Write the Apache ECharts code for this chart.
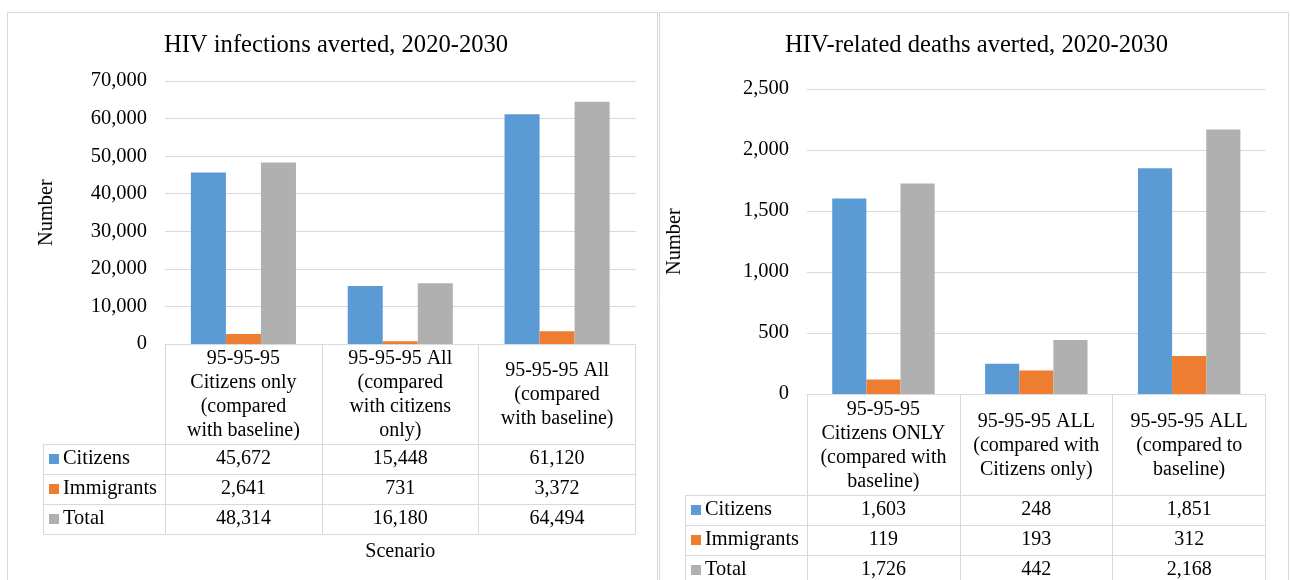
<!DOCTYPE html>
<html><head><meta charset="utf-8">
<script src="https://cdn.jsdelivr.net/npm/echarts@6/dist/echarts.min.js"></script>
<style>html,body{margin:0;padding:0;background:#fff}#c{width:1291px;height:580px}</style>
</head><body><div id="c"></div>
<script>
// ---- data ----
const seriesNames = ['Citizens', 'Immigrants', 'Total'];
const seriesColors = ['#5B9BD5', '#ED7D31', '#B0B0B0'];

const infTitle = 'HIV infections averted, 2020-2030';
const infCategories = ['95-95-95\nCitizens only\n(compared\nwith baseline)', '95-95-95 All\n(compared\nwith citizens\nonly)', '95-95-95 All\n(compared\nwith baseline)'];
const infCitizens = [45672, 15448, 61120];
const infImmigrants = [2641, 731, 3372];
const infTotal = [48314, 16180, 64494];
const infYMax = 70000, infYInterval = 10000;

const dthTitle = 'HIV-related deaths averted, 2020-2030';
const dthCategories = ['95-95-95\nCitizens ONLY\n(compared with\nbaseline)', '95-95-95 ALL\n(compared with\nCitizens only)', '95-95-95 ALL\n(compared to\nbaseline)'];
const dthCitizens = [1603, 248, 1851];
const dthImmigrants = [119, 193, 312];
const dthTotal = [1726, 442, 2168];
const dthYMax = 2500, dthYInterval = 500;

// ---- layout ----
const FONT = '"Liberation Serif", "Times New Roman", serif';
const TXT = '#000';
const LINE = '#d9d9d9';
const panels = [
  {left:165, right:635.5, top:81, bottom:344, headH:100, rowH:30, legendLeft:43, titleX:331, nameGap:108, box:[7.5,12.5,650,620], scenario:true,
   title:infTitle, cats:infCategories, vals:[infCitizens, infImmigrants, infTotal], yMax:infYMax, yInt:infYInterval},
  {left:807, right:1265.6, top:89, bottom:394, headH:101, rowH:30, legendLeft:685, titleX:971.5, nameGap:122, box:[659.5,12.5,629,620], scenario:false,
   title:dthTitle, cats:dthCategories, vals:[dthCitizens, dthImmigrants, dthTotal], yMax:dthYMax, yInt:dthYInterval}
];
const fmt = v => v.toLocaleString('en-US');

const option = {animation:false, backgroundColor:'#fff', title:[], grid:[], xAxis:[], yAxis:[], series:[], graphic:[]};
panels.forEach((p, gi) => {
  option.graphic.push({type:'rect', shape:{x:p.box[0], y:p.box[1], width:p.box[2], height:p.box[3]}, style:{fill:'none', stroke:LINE, lineWidth:1}, z:-1});
  option.title.push({text:p.title, left:p.titleX, top:28, textAlign:'center', textStyle:{fontFamily:FONT, fontSize:24.6, fontWeight:'normal', color:TXT}});
  option.grid.push({left:p.left, top:p.top, width:p.right - p.left, height:p.bottom - p.top});
  const tableH = p.headH + 3 * p.rowH;
  const xi0 = option.xAxis.length;
  option.xAxis.push({type:'category', gridIndex:gi, data:p.cats, position:'bottom',
    axisLine:{show:true, lineStyle:{color:LINE, width:1}},
    axisTick:{show:true, interval:0, length:tableH + (gi ? 20 : 0), lineStyle:{color:LINE, width:1}},
    axisLabel:{interval:0, margin:p.headH / 2 + 1, verticalAlign:'middle', lineHeight:24, fontFamily:FONT, fontSize:20, color:TXT},
    name:p.scenario ? 'Scenario' : '', nameLocation:'middle', nameGap:p.headH + 3 * p.rowH + 8,
    nameTextStyle:{fontFamily:FONT, fontSize:20, color:TXT}});
  seriesNames.forEach((sn, si) => {
    option.xAxis.push({type:'category', gridIndex:gi, position:'bottom', data:p.vals[si].map(fmt),
      offset:p.headH + p.rowH * si + p.rowH / 2,
      axisLine:{show:false}, axisTick:{show:false},
      axisLabel:{interval:0, margin:0, verticalAlign:'middle', fontFamily:FONT, fontSize:20, color:TXT},
      name:'{sq|}{t|' + sn + '}', nameLocation:'start', nameGap:p.left - p.legendLeft - 6,
      nameTextStyle:{align:'left', verticalAlign:'middle', rich:{
        sq:{width:10, height:10, backgroundColor:seriesColors[si]},
        t:{fontFamily:FONT, fontSize:20.4, color:TXT, padding:[0,0,0,4]}}}});
  });
  option.yAxis.push({type:'value', gridIndex:gi, min:0, max:p.yMax, interval:p.yInt,
    axisLine:{show:false}, axisTick:{show:false},
    axisLabel:{formatter:fmt, fontFamily:FONT, fontSize:20.5, color:TXT, margin:18},
    splitLine:{lineStyle:{color:LINE, width:1}},
    name:'Number', nameLocation:'middle', nameGap:p.nameGap, nameRotate:90,
    nameTextStyle:{fontFamily:FONT, fontSize:20.4, color:TXT}});
  seriesNames.forEach((sn, si) => {
    option.series.push({type:'bar', name:sn, xAxisIndex:xi0, yAxisIndex:gi, data:p.vals[si],
      barGap:'0%', barCategoryGap:'33%', itemStyle:{color:seriesColors[si]}});
  });
  // table horizontal rules and legend column edge
  for (let k = 0; k <= 3; k++) {
    const y = p.bottom + p.headH + k * p.rowH + 0.5;
    option.graphic.push({type:'line', shape:{x1:p.legendLeft, y1:y, x2:p.right, y2:y}, style:{stroke:LINE, lineWidth:1}});
  }
  option.graphic.push({type:'line', shape:{x1:p.legendLeft + 0.5, y1:p.bottom + p.headH, x2:p.legendLeft + 0.5, y2:p.bottom + tableH + (gi ? 20 : 0)}, style:{stroke:LINE, lineWidth:1}});
});

const chart = echarts.init(document.getElementById('c'), null, {renderer:'canvas'});
chart.setOption(option);
</script></body></html>
